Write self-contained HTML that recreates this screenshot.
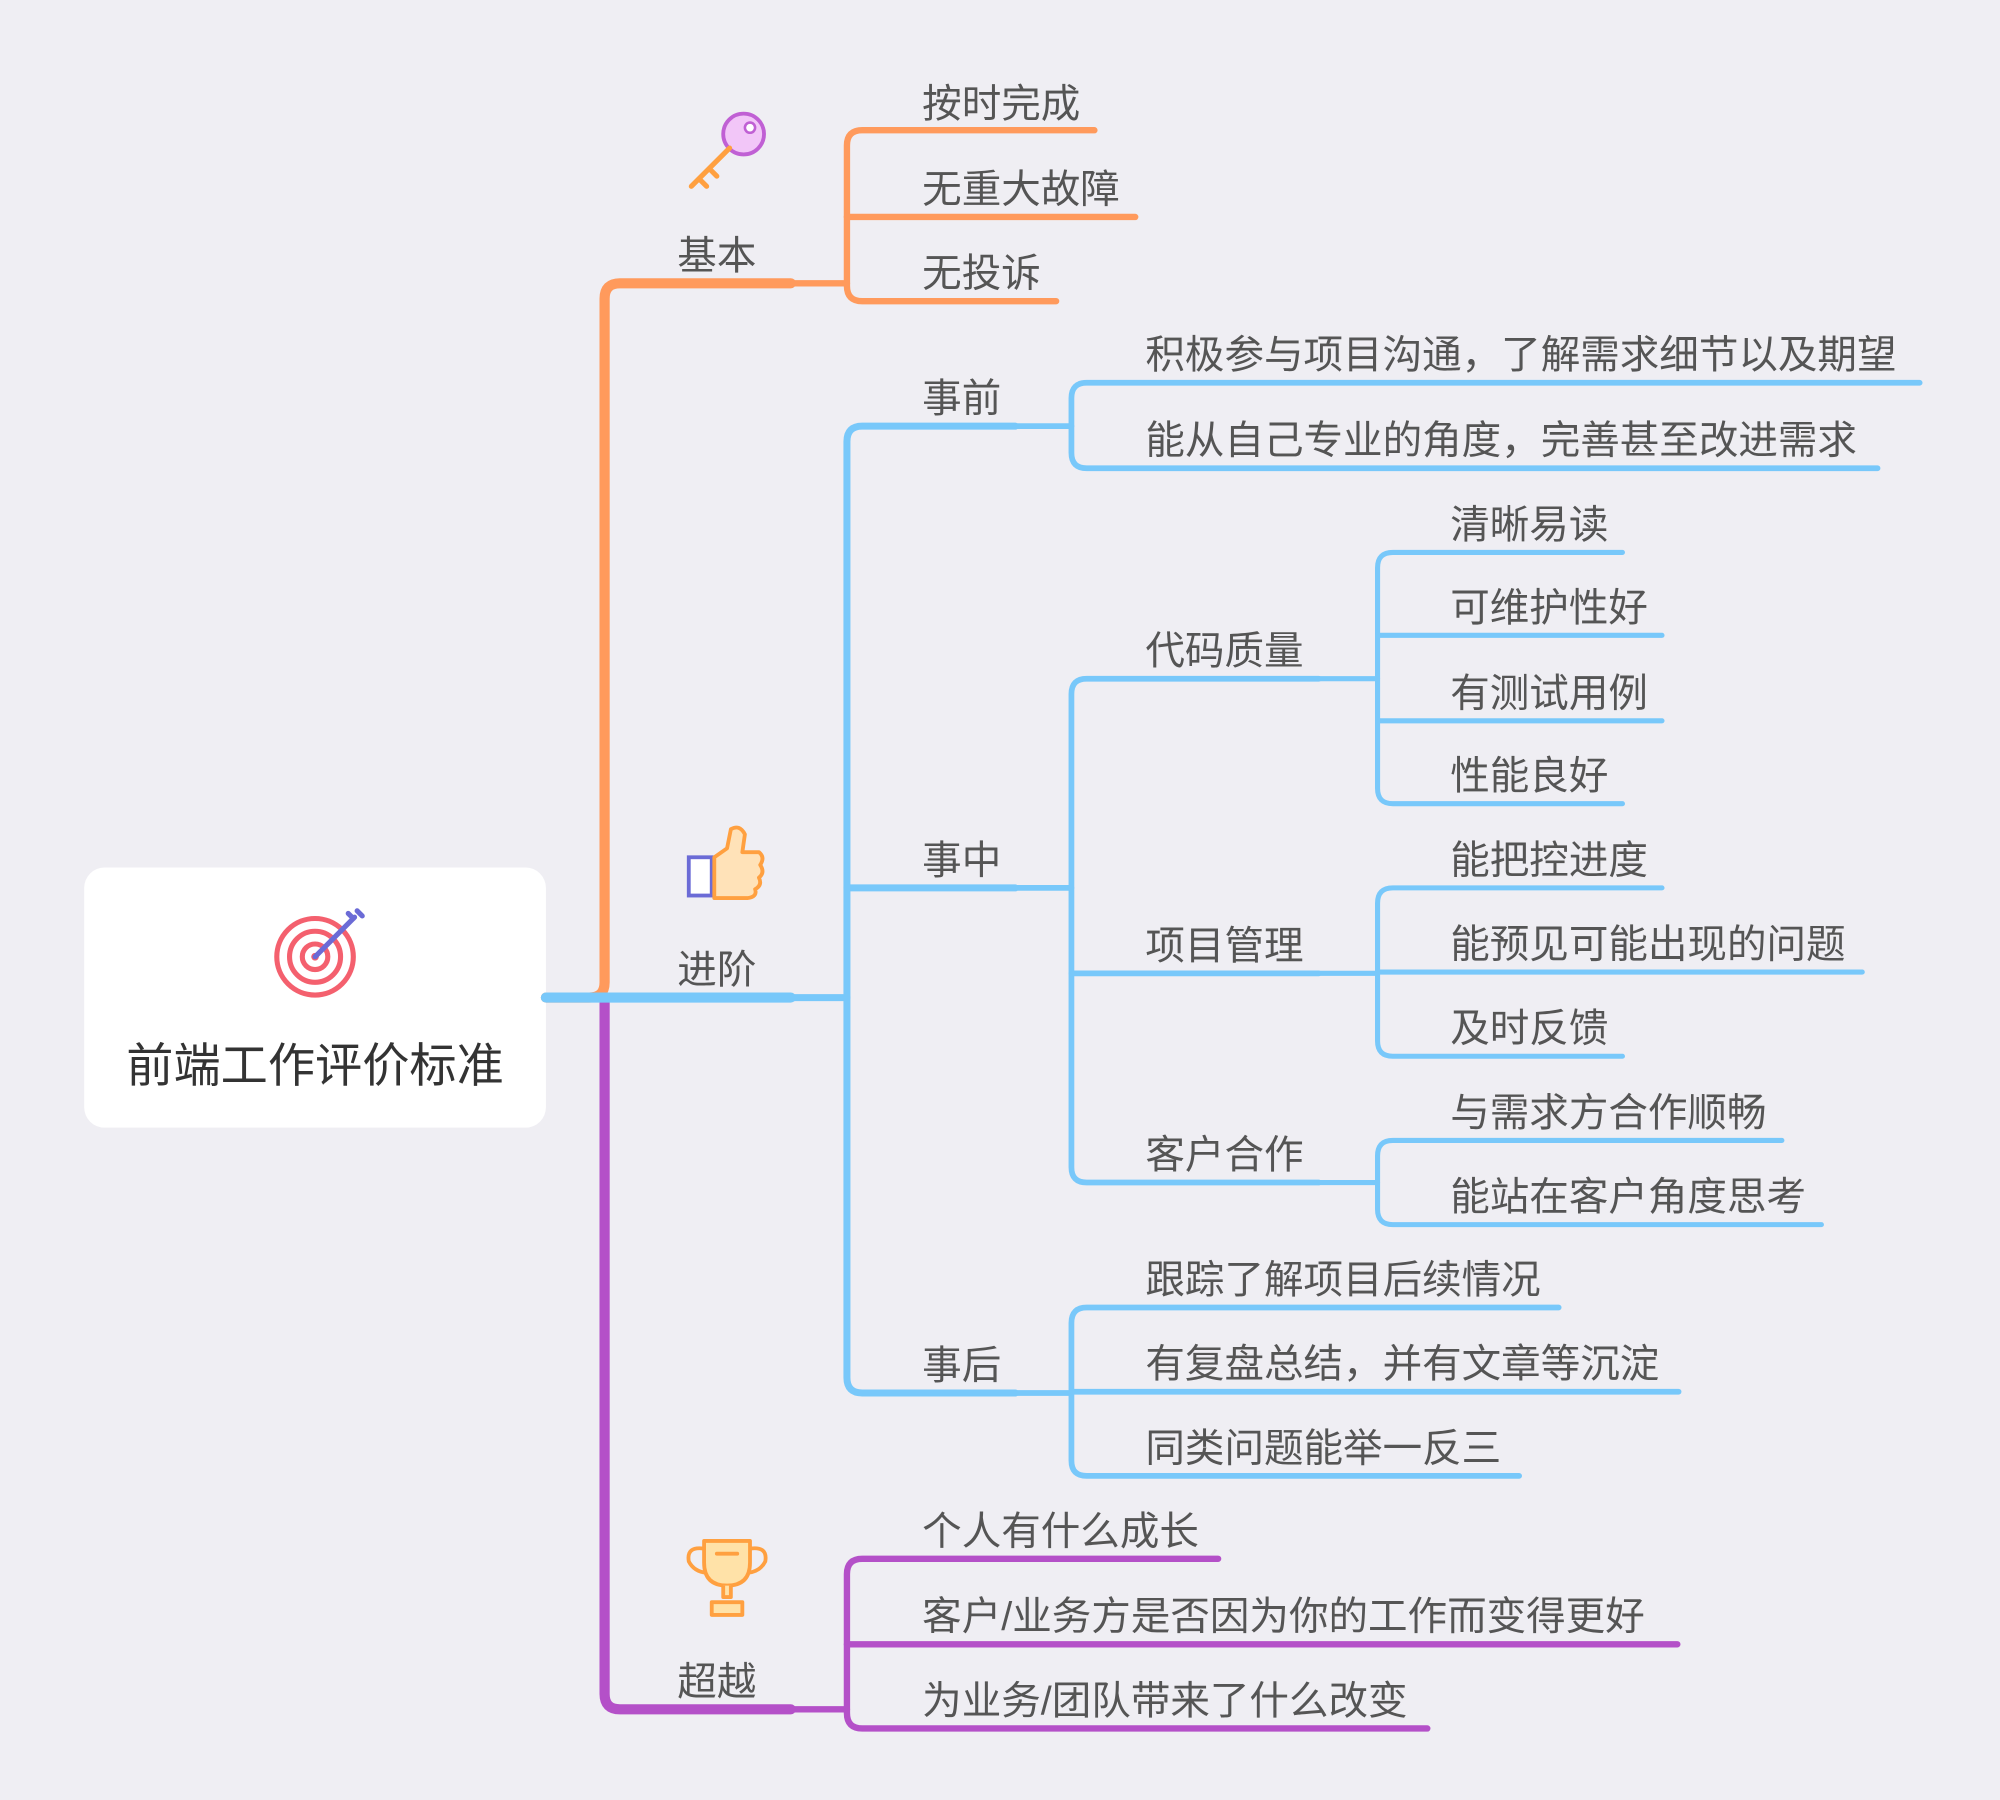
<!DOCTYPE html>
<html><head><meta charset="utf-8"><style>
html,body{margin:0;padding:0;background:#efeef3;}
svg{display:block}
text{font-family:"Liberation Sans","Noto Sans CJK SC",sans-serif;fill:#555;font-size:31px}
</style></head><body>
<svg width="2000" height="1800" viewBox="0 0 1568 1411" xmlns="http://www.w3.org/2000/svg">
<rect width="1568" height="1411" fill="#efeef3"/>
<rect x="66" y="680" width="362" height="204" rx="16" fill="#fff"/>
<!-- target icon -->
<g fill="none" stroke="#f4606e" stroke-width="4">
<circle cx="247" cy="750" r="30"/><circle cx="247" cy="750" r="20"/><circle cx="247" cy="750" r="10"/>
</g>
<circle cx="247" cy="750" r="3" fill="#f4606e"/>
<g stroke="#6b6bd6" stroke-width="4" fill="none" stroke-linecap="round">
<line x1="247" y1="750" x2="278" y2="719"/><path d="M273,716 l4,4 M280,714 l4,4"/>
</g>
<text x="247" y="848" text-anchor="middle" style="font-size:37px;fill:#333">前端工作评价标准</text>

<g fill="none" stroke-linecap="round">
<!-- orange -->
<g stroke="#ff9a5c">
<path d="M428,782 H462 Q474,782 474,770 V234 Q474,222 486,222 H620" stroke-width="8"/>
<g stroke-width="5">
<path d="M620,222 H664"/>
<path d="M858,102 H676 Q664,102 664,114 V224 Q664,236 676,236 H828"/>
<path d="M664,170 H890"/>
</g></g>
<!-- purple -->
<g stroke="#b450c8">
<path d="M474,782 V1328 Q474,1340 486,1340 H620" stroke-width="8"/>
<g stroke-width="5">
<path d="M620,1340 H664"/>
<path d="M955,1222 H676 Q664,1222 664,1234 V1343 Q664,1355 676,1355 H1119"/>
<path d="M664,1289 H1315"/>
</g></g>
<!-- blue -->
<g stroke="#78c8fa">
<path d="M428,782 H620" stroke-width="8"/>
<g stroke-width="5.5">
<path d="M620,782 H664"/>
<path d="M796,334 H676 Q664,334 664,346 V1080 Q664,1092 676,1092 H796"/>
<path d="M664,696 H796"/>
</g>
<g stroke-width="4.5">
<path d="M796,334 H840"/>
<path d="M1505,300 H852 Q840,300 840,312 V355 Q840,367 852,367 H1472"/>
<path d="M796,696 H840"/>
<path d="M1034,532 H852 Q840,532 840,544 V915 Q840,927 852,927 H1034"/>
<path d="M840,763 H1034"/>
<path d="M796,1092 H840"/>
<path d="M1222,1025 H852 Q840,1025 840,1037 V1145 Q840,1157 852,1157 H1191"/>
<path d="M840,1091 H1316"/>
</g>
<g stroke-width="4">
<path d="M1034,532 H1080"/>
<path d="M1272,433 H1092 Q1080,433 1080,445 V618 Q1080,630 1092,630 H1272"/>
<path d="M1080,498 H1303"/><path d="M1080,565 H1303"/>
<path d="M1034,763 H1080"/>
<path d="M1303,696 H1092 Q1080,696 1080,708 V816 Q1080,828 1092,828 H1272"/>
<path d="M1080,762 H1460"/>
<path d="M1034,927 H1080"/>
<path d="M1397,894 H1092 Q1080,894 1080,906 V948 Q1080,960 1092,960 H1428"/>
</g></g>
</g>

<!-- icons -->
<g>
<circle cx="583" cy="105" r="16" fill="#f2c6f8" stroke="#c060d4" stroke-width="3"/>
<circle cx="588" cy="100" r="4" fill="#fff" stroke="#c060d4" stroke-width="2"/>
<path d="M572,116 L542,146 M548,140 l6,6 M556,132 l6,6" stroke="#ffa040" stroke-width="4" fill="none" stroke-linecap="round"/>
</g>
<g>
<rect x="540" y="672" width="18" height="30" fill="#fff" stroke="#6b6bd6" stroke-width="3"/>
<path d="M560,672 L570,665 L573,650 Q580,646 584,654 L582,668 L595,668 Q600,672 596,678 Q600,684 595,688 Q598,694 592,697 Q594,703 586,704 L560,704 Z" fill="#ffe2b8" stroke="#ffa040" stroke-width="3" stroke-linejoin="round"/>
</g>
<g fill="none" stroke="#ffa040" stroke-width="3" stroke-linejoin="round">
<path d="M552,1208 H588 V1225 Q588,1243 570,1243 Q552,1243 552,1225 Z" fill="#ffe2a8"/>
<path d="M552,1214 Q538,1212 540,1224 Q544,1232 554,1233 M588,1214 Q602,1212 600,1224 Q596,1232 586,1233"/>
<path d="M567,1243 V1252 H573 V1243 M558,1266 V1256 H582 V1266 Z" fill="#ffe2a8"/>
<path d="M562,1218 H578" stroke-linecap="round"/>
</g>

<!-- labels -->
<text x="562" y="211" text-anchor="middle">基本</text>
<text x="562" y="771" text-anchor="middle">进阶</text>
<text x="562" y="1329" text-anchor="middle">超越</text>

<text x="723" y="92">按时完成</text>
<text x="723" y="159">无重大故障</text>
<text x="723" y="225">无投诉</text>

<text x="723" y="323">事前</text>
<text x="723" y="685">事中</text>
<text x="723" y="1081">事后</text>

<text x="898" y="289">积极参与项目沟通，了解需求细节以及期望</text>
<text x="898" y="356">能从自己专业的角度，完善甚至改进需求</text>
<text x="898" y="521">代码质量</text>
<text x="898" y="752">项目管理</text>
<text x="898" y="916">客户合作</text>
<text x="898" y="1014">跟踪了解项目后续情况</text>
<text x="898" y="1080">有复盘总结，并有文章等沉淀</text>
<text x="898" y="1146">同类问题能举一反三</text>

<text x="1137" y="422">清晰易读</text>
<text x="1137" y="487">可维护性好</text>
<text x="1137" y="554">有测试用例</text>
<text x="1137" y="619">性能良好</text>
<text x="1137" y="685">能把控进度</text>
<text x="1137" y="751">能预见可能出现的问题</text>
<text x="1137" y="817">及时反馈</text>
<text x="1137" y="883">与需求方合作顺畅</text>
<text x="1137" y="949">能站在客户角度思考</text>

<text x="723" y="1211">个人有什么成长</text>
<text x="723" y="1278">客户/业务方是否因为你的工作而变得更好</text>
<text x="723" y="1344">为业务/团队带来了什么改变</text>
</svg>
</body></html>
